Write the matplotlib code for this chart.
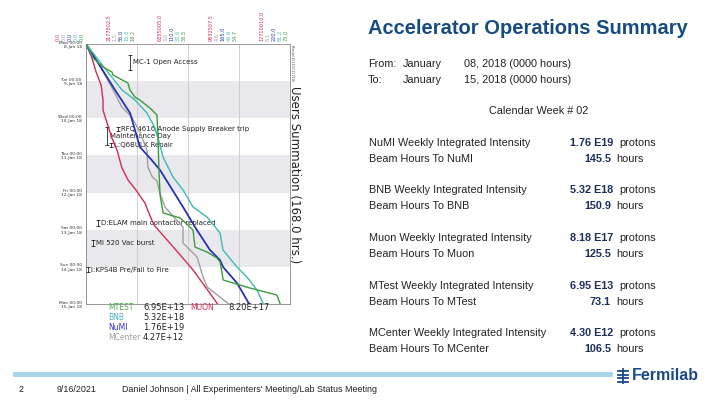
import matplotlib
matplotlib.use("Agg")
import matplotlib.pyplot as plt
from matplotlib import transforms
from matplotlib.patches import Rectangle
from matplotlib.lines import Line2D

W, H = 720, 405

# ---------------- data ----------------
day_hours = [0, 24, 48, 72, 96, 120, 144, 168]
day_labels = ["Mon 00:00\n8-Jan 18", "Tue 00:00\n9-Jan 18", "Wed 00:00\n10-Jan 18",
              "Thu 00:00\n11-Jan 18", "Fri 00:00\n12-Jan 18", "Sat 00:00\n13-Jan 18",
              "Sun 00:00\n14-Jan 18", "Mon 00:00\n15-Jan 18"]

series_names = ["MUON", "MCenter", "NuMI", "BNB", "MTEST"]
series_colors = ["#d42a52", "#a0a0a0", "#2532b4", "#3fb8b2", "#3d9a3d"]
scale_max = [12710010.0, 6.1, 220.0, 61.2, 73.0]
top_tick_labels = [
    ["0.0", "3177502.5", "6355005.0", "9532507.5", "12710010.0"],
    ["0.0", "1.5", "3.0", "4.6", "6.1"],
    ["0.0", "55.0", "110.0", "165.0", "220.0"],
    ["0.0", "15.3", "30.6", "45.9", "61.2"],
    ["0.0", "18.2", "36.5", "54.7", "73.0"],
]

muon_hours = [0, 9.0, 18.1, 26.5, 36.2, 42.7, 51.0, 60.7, 68.5, 80.1, 87.9, 94.3,
              102.7, 111.1, 117.0, 133.1, 146.1, 168]
muon_vals = [0, 0.37e6, 0.63e6, 0.94e6, 1.06e6, 1.06e6, 1.31e6, 1.61e6, 1.93e6,
             2.24e6, 2.62e6, 3.11e6, 3.67e6, 3.99e6, 4.24e6, 5.60e6, 6.68e6, 8.20e6]

mcenter_hours = [0, 14.2, 29.7, 40.7, 47.2, 57.5, 68.5, 79.5, 85.9, 88.5, 96.3, 105.3,
                 110.5, 118.3, 128.6, 137.6, 150.6, 157.0, 168]
mcenter_vals = [0, 0.42, 0.81, 1.07, 1.37, 1.62, 1.82, 1.85, 1.98, 2.12, 2.21, 2.36,
                2.57, 2.90, 2.90, 3.32, 3.50, 3.62, 4.27]

numi_hours = [0, 14.2, 29.7, 44.6, 55.6, 66.6, 73.7, 81.4, 105.3, 120.2, 133.1, 139.6,
              144.1, 154.4, 168]
numi_vals = [0, 15.1, 31.3, 47.5, 52.8, 58.2, 69.0, 79.8, 104.6, 119.6, 133.7, 144.5,
             147.8, 162.8, 176.0]

bnb_hours = [0, 11.6, 20.0, 29.7, 36.2, 44.6, 54.3, 65.3, 73.0, 85.9, 94.3, 105.3,
             111.8, 122.1, 133.1, 144.1, 150.6, 159.0, 168]
bnb_vals = [0, 4.2, 7.2, 10.8, 14.7, 18.3, 20.7, 22.2, 23.1, 26.1, 29.1, 32.1, 36.3,
            40.2, 41.1, 45.3, 48.3, 51.3, 53.2]

mtest_hours = [0, 9.0, 14.9, 18.1, 20.0, 25.2, 29.7, 34.3, 36.2, 41.4, 45.9, 62.0,
               81.4, 97.5, 109.2, 112.4, 120.2, 131.2, 134.4, 138.3, 140.9, 152.5,
               157.7, 162.2, 168]
mtest_vals = [0, 2.5, 6.1, 9.3, 9.6, 15.0, 15.7, 17.5, 19.3, 22.9, 25.4, 25.8, 26.1,
              26.5, 27.6, 33.7, 38.3, 39.0, 43.3, 46.9, 48.0, 49.1, 58.7, 68.3, 69.5]

series_hours = [muon_hours, mcenter_hours, numi_hours, bnb_hours, mtest_hours]
series_vals = [muon_vals, mcenter_vals, numi_vals, bnb_vals, mtest_vals]

# events: label, start hour, end hour
event_labels = ["MC-1 Open Access", "RFQ 4616 Anode Supply Breaker trip", "Maintenance Day",
                "L:Q6BULK Repair", "D:ELAM main contactor replaced", "MI 520 Vac burst",
                "I:KPS4B Pre/Fail to Fire"]
event_start = [7.1, 53.6, 53.6, 64.0, 113.7, 126.7, 144.1]
event_end = [16.8, 56.2, 65.3, 66.6, 117.6, 130.5, 147.4]

legend_names = ["MTEST", "BNB", "NuMI", "MCenter"]
legend_totals = ["6.95E+13", "5.32E+18", "1.76E+19", "4.27E+12"]
legend_colors = ["#4cae4c", "#4fb3c8", "#3434c8", "#a0a0a0"]
muon_total = "8.20E+17"

panel_intensity_labels = ["NuMI Weekly Integrated Intensity", "BNB Weekly Integrated Intensity",
                          "Muon Weekly Integrated Intensity", "MTest Weekly Integrated Intensity",
                          "MCenter Weekly Integrated Intensity"]
panel_hour_labels = ["Beam Hours To NuMI", "Beam Hours To BNB", "Beam Hours To Muon",
                     "Beam Hours To MTest", "Beam Hours To MCenter"]
panel_intensity_vals = ["1.76 E19", "5.32 E18", "8.18 E17", "6.95 E13", "4.30 E12"]
panel_hour_vals = ["145.5", "150.9", "125.5", "73.1", "106.5"]

# ---------------- figure ----------------
fig = plt.figure(figsize=(7.2, 4.05), dpi=100)
fig.patch.set_facecolor("white")
SLIDE = "Liberation Sans"


def T(x, y, s, **kw):
    kw.setdefault("family", SLIDE)
    return fig.text(x / W, 1 - y / H, s, **kw)


# ---- chart axes
L, R, TOP, BOT = 86, 290, 44, 304
ax = fig.add_axes([L / W, 1 - BOT / H, (R - L) / W, (BOT - TOP) / H])
ax.set_xlim(0, 1)
ax.set_ylim(168, 0)
for h0 in (24, 72, 120):
    ax.axhspan(h0, h0 + 24, color="#e9e9ed", zorder=0, lw=0)
ax.set_xticks([0, 0.25, 0.5, 0.75, 1.0])
ax.xaxis.grid(True, color="#c8c8c8", lw=0.6)
ax.tick_params(axis="x", length=0, labelbottom=False)
ax.set_yticks(day_hours)
ax.set_yticklabels(day_labels, fontsize=3.2, color="#333333", linespacing=1.1)
ax.tick_params(axis="y", length=0, pad=3)
for s in ax.spines.values():
    s.set_color("#888888")
    s.set_linewidth(0.6)

for i, name in enumerate(series_names):
    tw = ax.twiny()
    tw.set_xlim(0, scale_max[i])
    tw.set_ylim(168, 0)
    tw.axis("off")
    tw.plot(series_vals[i], series_hours[i], color=series_colors[i], lw=1.0 if i != 2 else 1.3)
    # top tick labels
    dx_pt = (-28 + i * 6) * 0.72
    base = transforms.blended_transform_factory(ax.transAxes, ax.transAxes)
    for k, lab in enumerate(top_tick_labels[i]):
        tr = transforms.offset_copy(base, fig=fig, x=dx_pt, y=2.5, units="points")
        fig.text(k / 4, 1.0, lab, transform=tr, rotation=90, ha="center", va="bottom",
                 fontsize=3.6, color=series_colors[i])

# event bars and texts
bar_x = [0.216, 0.157, 0.103, 0.123, 0.059, 0.034, 0.010]
ev_tr = transforms.blended_transform_factory(ax.transAxes, ax.transData)
for lab, h0, h1, bx in zip(event_labels, event_start, event_end, bar_x):
    ax.plot([bx, bx], [h0, h1], color="#222222", lw=0.6, marker="_", ms=2.5, mew=0.6,
            transform=ev_tr, zorder=5)
    ttr = transforms.offset_copy(ev_tr, fig=fig, x=2.0, y=0, units="points")
    ax.text(bx, (h0 + h1) / 2, lab, transform=ttr, fontsize=5.0, color="#222222",
            ha="left", va="center", zorder=6)

# right label
T(295, 175, "Users Summation (168.0 hrs.)", family="DejaVu Sans", fontsize=8.5,
  rotation=270, ha="center", va="center", color="#222222")
T(292, 63, "Mon Jan 15 13:57:11 2018", family="DejaVu Sans", fontsize=2.0,
  rotation=270, ha="center", va="center", color="#333333")

# legend below chart
for j, (nm, tot, c) in enumerate(zip(legend_names, legend_totals, legend_colors)):
    yy = 308 + j * 10
    T(108, yy, nm, family="DejaVu Sans", fontsize=5.5, color=c, va="center")
    T(143, yy, tot, family="DejaVu Sans", fontsize=6, color="#222222", va="center")
T(190, 308, "MUON", family="DejaVu Sans", fontsize=5.5, color="#d42a52", va="center")
T(228, 308, muon_total, family="DejaVu Sans", fontsize=6, color="#222222", va="center")

# ---- slide text
T(368, 29, "Accelerator Operations Summary", fontsize=14.5, fontweight="bold",
  color="#184c80", va="center")
T(368, 64, "From:", fontsize=7.8, color="#222222", va="center")
T(403, 64, "January", fontsize=7.8, color="#222222", va="center")
T(464, 64, "08, 2018 (0000 hours)", fontsize=7.8, color="#222222", va="center")
T(368, 80, "To:", fontsize=7.8, color="#222222", va="center")
T(403, 80, "January", fontsize=7.8, color="#222222", va="center")
T(464, 80, "15, 2018 (0000 hours)", fontsize=7.8, color="#222222", va="center")
T(539, 111, "Calendar Week # 02", fontsize=7.8, color="#222222", va="center", ha="center")

row_y = [143, 190, 238, 286, 333]
for yy, l1, l2, v1, v2 in zip(row_y, panel_intensity_labels, panel_hour_labels,
                              panel_intensity_vals, panel_hour_vals):
    T(369, yy, l1, fontsize=7.8, color="#222222", va="center")
    T(369, yy + 16, l2, fontsize=7.8, color="#222222", va="center")
    T(613, yy, v1, fontsize=7.8, fontweight="bold", color="#1c2f5e", va="center", ha="right")
    T(619, yy, "protons", fontsize=7.8, color="#222222", va="center")
    T(611, yy + 16, v2, fontsize=7.8, fontweight="bold", color="#1c2f5e", va="center", ha="right")
    T(616, yy + 16, "hours", fontsize=7.8, color="#222222", va="center")

# ---- footer
fig.patches.append(Rectangle((13 / W, 1 - 377 / H), (613 - 13) / W, 5 / H,
                             transform=fig.transFigure, color="#a8d5e8", lw=0))
T(19, 389, "2", fontsize=6.4, color="#222222", va="center")
T(57, 389, "9/16/2021", fontsize=6.4, color="#222222", va="center")
T(122, 389, "Daniel Johnson | All Experimenters' Meeting/Lab Status Meeting", fontsize=6.4,
  color="#222222", va="center")
T(632, 376, "Fermilab", fontsize=11.5, fontweight="bold", color="#1a4a86", va="center")
# simple logo glyph
lc = "#1a4a86"
for (x0, y0, x1, y1) in [(623, 369, 623, 383), (618, 371, 628, 371), (618, 374.5, 628, 374.5),
                         (618, 378, 628, 378), (618, 381.5, 628, 381.5)]:
    fig.lines.append(Line2D([x0 / W, x1 / W], [1 - y0 / H, 1 - y1 / H], transform=fig.transFigure,
                            color=lc, lw=1.3))

fig.savefig("out.png", dpi=100)
